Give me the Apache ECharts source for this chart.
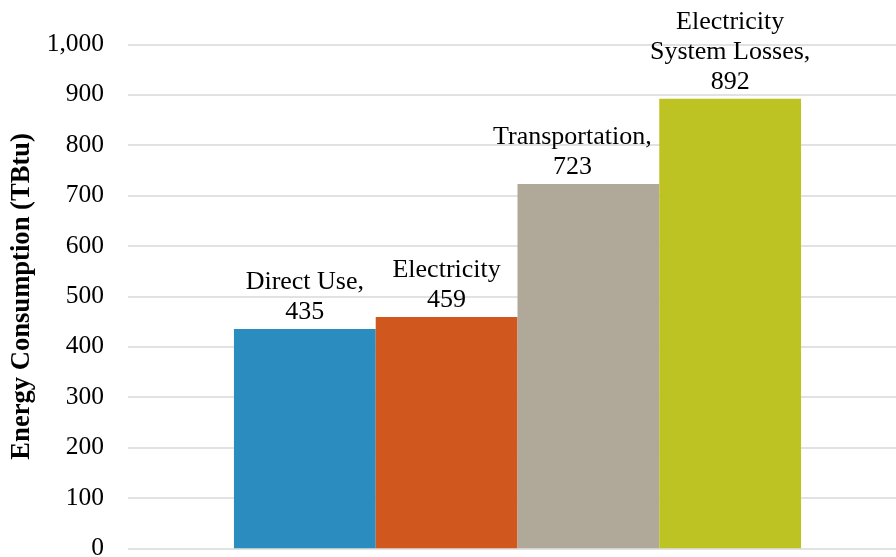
<!DOCTYPE html>
<html>
<head>
<meta charset="utf-8">
<script src="https://cdn.jsdelivr.net/npm/echarts@6/dist/echarts.min.js"></script>
<style>
  html, body { margin: 0; padding: 0; background: #fff; }
  #chart { width: 896px; height: 557px; }
</style>
</head>
<body>
<div id="chart"></div>
<script>
// Energy consumption by end use (TBtu)
const categories = ['Direct Use', 'Electricity', 'Transportation', 'Electricity System Losses'];
const values = [435, 459, 723, 892];
const labelLines = [['Direct Use,'], ['Electricity'], ['Transportation,'], ['Electricity', 'System Losses,']];
const barColors = ['#2b8cbf', '#d0581f', '#b0a898', '#bcc322'];
const yMin = 0;
const yMax = 1000;
const yStep = 100;
const yAxisTitle = 'Energy Consumption (TBtu)';

const FONT = '"Liberation Serif", "Times New Roman", serif';

const series = categories.map((name, i) => ({
  name: name,
  type: 'bar',
  data: [values[i]],
  barGap: 0,
  barCategoryGap: '27.2%',
  itemStyle: { color: barColors[i] },
  emphasis: { disabled: true },
  label: {
    show: true,
    position: 'top',
    distance: 2,
    offset: i === 2 ? [-16, 0] : [0, 0],
    fontFamily: FONT,
    fontSize: 26,
    lineHeight: 30,
    color: '#000',
    align: 'center',
    formatter: (p) => labelLines[i].join('\n') + '\n' + p.value
  }
}));

const chart = echarts.init(document.getElementById('chart'), null, { renderer: 'canvas' });
chart.setOption({
  animation: false,
  grid: {
    left: 128, right: -11, top: 44.4, bottom: 8.7,
    containLabel: false,
    outerBoundsMode: 'none'
  },
  xAxis: {
    type: 'category',
    data: ['Energy'],
    axisLine: { show: false },
    axisTick: { show: false },
    axisLabel: { show: false }
  },
  yAxis: {
    type: 'value',
    min: yMin,
    max: yMax,
    interval: yStep,
    name: yAxisTitle,
    nameLocation: 'middle',
    nameGap: 90,
    nameTextStyle: { fontFamily: FONT, fontSize: 26.6, fontWeight: 'bold', color: '#000' },
    axisLine: { show: false },
    axisTick: { show: false },
    axisLabel: {
      margin: 24,
      fontFamily: FONT,
      fontSize: 25.5,
      color: '#000',
      formatter: (v) => v.toLocaleString('en-US')
    },
    splitLine: { lineStyle: { color: '#d9d9d9', width: 1.5 } }
  },
  series: series
});
</script>
</body>
</html>
